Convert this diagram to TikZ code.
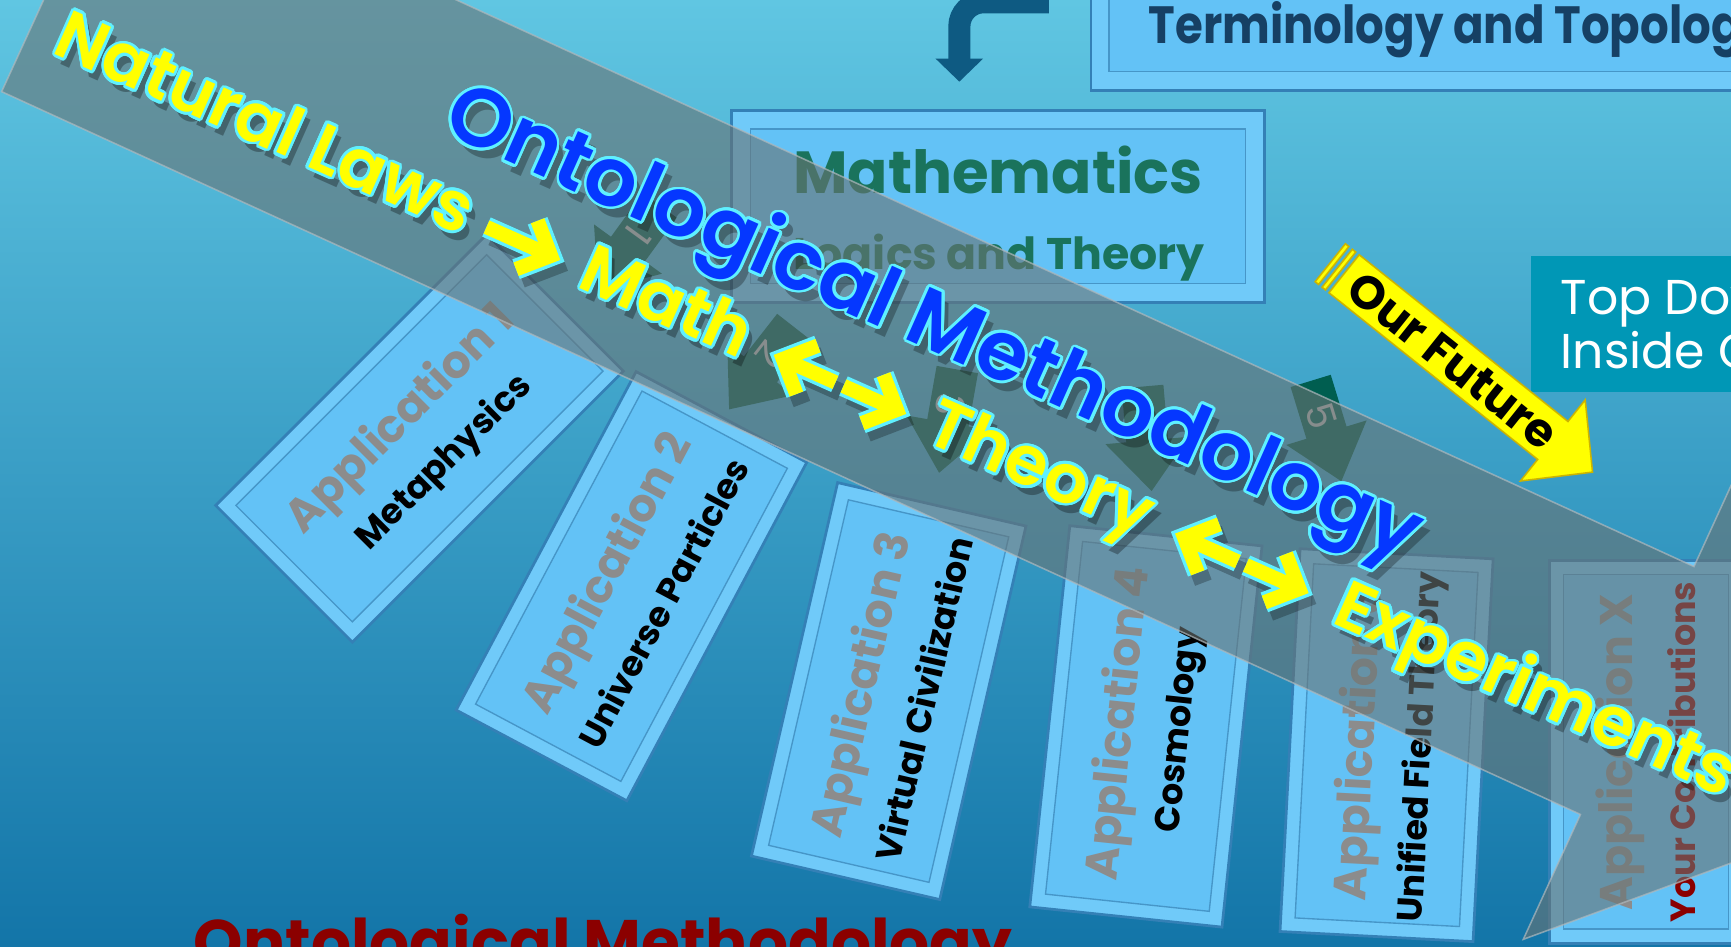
\documentclass[tikz,border=0pt]{standalone}
\usepackage{fontspec}
\setmainfont{Poppins}
\newfontfamily\popsemi{Poppins SemiBold}
\usepackage{contour}
\contourlength{0.7pt}
\contournumber{20}
\usetikzlibrary{calc,arrows.meta}
\definecolor{bgtop}{RGB}{96,198,226}
\definecolor{bgbot}{RGB}{19,117,168}
\definecolor{boxfill}{RGB}{99,194,246}
\definecolor{boxouter}{RGB}{112,202,249}
\definecolor{boxline}{RGB}{52,128,182}
\definecolor{innerline}{RGB}{70,150,200}
\definecolor{termtext}{RGB}{22,64,100}
\definecolor{mathtext}{RGB}{26,115,92}
\definecolor{bentblue}{RGB}{14,90,130}
\definecolor{topdown}{RGB}{0,151,182}
\definecolor{appgray}{RGB}{140,140,140}
\definecolor{darkred}{RGB}{139,0,0}
\definecolor{ylw}{RGB}{255,255,0}
\definecolor{cyanout}{RGB}{95,240,255}
\definecolor{textblue}{RGB}{5,55,255}
\definecolor{arrowgreen}{RGB}{0,94,80}
\definecolor{bandgray}{RGB}{105,115,115}
\definecolor{bandedge}{RGB}{175,185,190}
\definecolor{numgray}{RGB}{180,180,180}
\definecolor{futuregold}{RGB}{205,180,0}

\newcommand\appbox[7]{%
  \node[appouter, rotate=#4] (#1) at (#2,#3) {};
  \node[appinner, rotate=#4] (#1i) at (#1.center) {};
  \node[apptitle, rotate=#4] (#1t) at ($(#1.center)!0.26!(#1.north)$) {#5};
  \node[appsub, rotate=#4, text=#7] (#1s) at ($(#1.center)!0.36!(#1.south)$) {#6};
}
\newcommand\grarrow[5]{%
  \begin{scope}[shift={(#2,#3)}, rotate=#4]
    \fill[arrowgreen] (-47,-19) -- (2,-19) -- (2,-38) -- (48,0) -- (2,38) -- (2,19) -- (-47,19) -- cycle;
    \node[numlabel, rotate=#4] (#1) at (-14,0) {#5};
  \end{scope}
}

\begin{document}
\begin{tikzpicture}[x=0.01cm,y=-0.01cm,
  outerbox/.style={draw=boxline, fill=boxouter, line width=0.7pt, inner sep=0},
  innerbox/.style={draw=innerline, fill=boxfill, line width=0.35pt, inner sep=0},
  appouter/.style={outerbox, minimum width=3.47cm, minimum height=1.75cm},
  appinner/.style={innerbox, minimum width=3.21cm, minimum height=1.49cm},
  apptitle/.style={inner sep=0, text=appgray, font=\bfseries\fontsize{11.8}{12}\selectfont},
  appsub/.style={inner sep=0, font=\bfseries\fontsize{9}{10}\selectfont},
  numlabel/.style={inner sep=0, text=numgray, font=\fontsize{10}{10}\selectfont},
  ytext/.style={inner sep=0, anchor=base, rotate=-24, text=ylw, font=\popsemi\fontsize{17.6}{20}\selectfont},
  yshadow/.style={inner sep=0, anchor=base, rotate=-24, text=black, text opacity=0.3, font=\popsemi\fontsize{17.6}{20}\selectfont},
  yout/.style={draw=cyanout, line width=1.9mm, line join=miter},
  yin/.style={draw=ylw, line width=1.3mm, line join=miter},
  yshad/.style={draw=black, draw opacity=0.25, line width=1.6mm, line join=miter},
  btext/.style={inner sep=0, anchor=base west, rotate=-24, text=textblue, font=\popsemi\fontsize{21.2}{23}\selectfont},
  bshadow/.style={inner sep=0, anchor=base west, rotate=-24, text=black, text opacity=0.28, font=\popsemi\fontsize{21.2}{23}\selectfont}
]
\useasboundingbox (0,0) rectangle (1568,857);
\clip (0,0) rectangle (1568,857);
\shade[top color=bgtop, bottom color=bgbot] (0,0) rectangle (1568,857);

% Terminology box
\node[outerbox, minimum width=6.4cm, minimum height=1.05cm, anchor=north west] (termout) at (987,-24) {};
\node[innerbox, minimum width=6.06cm, minimum height=0.88cm, anchor=north west] (termin) at (1004,-24) {};
\node[anchor=base west, inner sep=0, text=termtext, font=\bfseries\fontsize{13.5}{14}\selectfont] (termtxt) at (1040,39) {\scalebox{0.86}[1]{Terminology and Topology}};

% bent arrow
\coordinate (ba1) at (950,2);
\coordinate (ba2) at (869,74);
\draw[bentblue, line width=2mm, rounded corners=2.2mm, -{Triangle[width=4.2mm,length=2.1mm]}] (ba1) -| (ba2);

% Mathematics box
\node[outerbox, minimum width=4.82cm, minimum height=1.74cm] (mathout) at (904,187) {};
\node[innerbox, minimum width=4.48cm, minimum height=1.4cm] (mathin) at (904,187) {};
\node[anchor=base, inner sep=0, text=mathtext, font=\bfseries\fontsize{15.3}{18}\selectfont] (mtitle) at (904,175) {Mathematics};
\node[anchor=base, inner sep=0, text=mathtext, font=\bfseries\fontsize{11.4}{12}\selectfont] (msub) at (905,244) {Logics and Theory};

% Top down box
\node[fill=topdown, anchor=north west, minimum width=2.3cm, minimum height=1.23cm, inner sep=0] (tdbox) at (1386,231) {};
\node[anchor=base west, inner sep=0, text=white, font=\fontsize{12.6}{14}\selectfont] (td1) at (1413,285) {Top Down};
\node[anchor=base west, inner sep=0, text=white, font=\fontsize{12.6}{14}\selectfont] (td2) at (1413,334) {Inside Out};

% application boxes
\appbox{app1}{380}{397}{45}{Application 1}{Metaphysics}{black}
\appbox{app2}{572}{531}{62}{Application 2}{Universe Particles}{black}
\appbox{app3}{805}{626}{77}{Application 3}{Virtual Civilization}{black}
\appbox{app4}{1038}{658}{84}{Application 4}{Cosmology}{black}
\appbox{app5}{1256}{675}{87}{Application 5}{Unified Field Theory}{black}
\appbox{appx}{1491}{681}{90}{Application X}{Your Contributions}{darkred}

% small numbered arrows
\grarrow{g1}{570}{224}{-126}{1}
\grarrow{g2}{690}{333}{-128}{2}
\grarrow{g3}{859}{381}{-100}{3}
\grarrow{g4}{1039}{397}{-85}{4}
\grarrow{g5}{1201}{390}{-73}{5}

% translucent band arrow
\begin{scope}[shift={(1.5,83)}, rotate=-24.6]
  \filldraw[fill=bandgray, fill opacity=0.6, draw=bandedge, draw opacity=0.7, line width=0.4pt]
    (0,0) -- (1573,0) -- (1573,124.4) -- (1823,-123.5) -- (1573,-371.4) -- (1573,-247) -- (0,-247) -- cycle;
\end{scope}

% Our Future arrow
\begin{scope}[shift={(1205,238)}, rotate=-38.6]
  \filldraw[fill=ylw, draw=futuregold, line width=0.4pt] (0,-22) rectangle (4,22);
  \filldraw[fill=ylw, draw=futuregold, line width=0.4pt] (8,-22) rectangle (12,22);
  \filldraw[fill=ylw, draw=futuregold, line width=0.4pt] (16,-22) -- (258,-22) -- (258,-47) -- (304,0) -- (258,47) -- (258,22) -- (16,22) -- cycle;
  \node[rotate=-38.6, inner sep=0, font=\bfseries\fontsize{12}{12}\selectfont] (ourfuture) at (142,0) {Our Future};
\end{scope}

% shadows of band texts
\begin{scope}[shift={(50,56)}, rotate=-24]
  \node[yshadow] (snl) at (205,0) {Natural Laws};
  \node[yshadow] (smath) at (603,0) {Math};
  \node[yshadow] (sth) at (974,0) {Theory};
  \node[yshadow] (sexp) at (1465,0) {Experiments};
  \path[yshad] (426,-16) -- (490,-16) (466,-40) -- (490,-16) -- (466,8);
  \path[yshad] (744,-40) -- (720,-16) -- (744,8) (720,-16) -- (772,-16) (780,-16) -- (833,-16) (809,-40) -- (833,-16) -- (809,8);
  \path[yshad] (1142,-40) -- (1118,-16) -- (1142,8) (1118,-16) -- (1171,-16) (1179,-16) -- (1232,-16) (1208,-40) -- (1232,-16) -- (1208,8);
\end{scope}
\node[bshadow] (sbt) at (404,129) {Ontological Methodology};

% yellow line
\begin{scope}[shift={(45,47)}, rotate=-24]
  \node[ytext] (nl) at (205,0) {\contour{cyanout}{Natural Laws}};
  \node[ytext] (ymath) at (603,0) {\contour{cyanout}{Math}};
  \node[ytext] (yth) at (974,0) {\contour{cyanout}{Theory}};
  \node[ytext] (yexp) at (1465,0) {\contour{cyanout}{Experiments}};
  \path[yout] (426,-16) -- (490,-16) (466,-40) -- (490,-16) -- (466,8);
  \path[yout] (744,-40) -- (720,-16) -- (744,8) (720,-16) -- (772,-16) (780,-16) -- (833,-16) (809,-40) -- (833,-16) -- (809,8);
  \path[yout] (1142,-40) -- (1118,-16) -- (1142,8) (1118,-16) -- (1171,-16) (1179,-16) -- (1232,-16) (1208,-40) -- (1232,-16) -- (1208,8);
  \path[yin] (426,-16) -- (490,-16) (466,-40) -- (490,-16) -- (466,8);
  \path[yin] (744,-40) -- (720,-16) -- (744,8) (720,-16) -- (772,-16) (780,-16) -- (833,-16) (809,-40) -- (833,-16) -- (809,8);
  \path[yin] (1142,-40) -- (1118,-16) -- (1142,8) (1118,-16) -- (1171,-16) (1179,-16) -- (1232,-16) (1208,-40) -- (1232,-16) -- (1208,8);
\end{scope}

% blue title on band
\node[btext] (ontm) at (398,119) {\contour{cyanout}{Ontological Methodology}};

% bottom red title
\node[anchor=base west, inner sep=0, text=darkred, font=\bfseries\fontsize{16.2}{18}\selectfont] (bottomtitle) at (175,874) {Ontological Methodology};
\end{tikzpicture}
\end{document}
